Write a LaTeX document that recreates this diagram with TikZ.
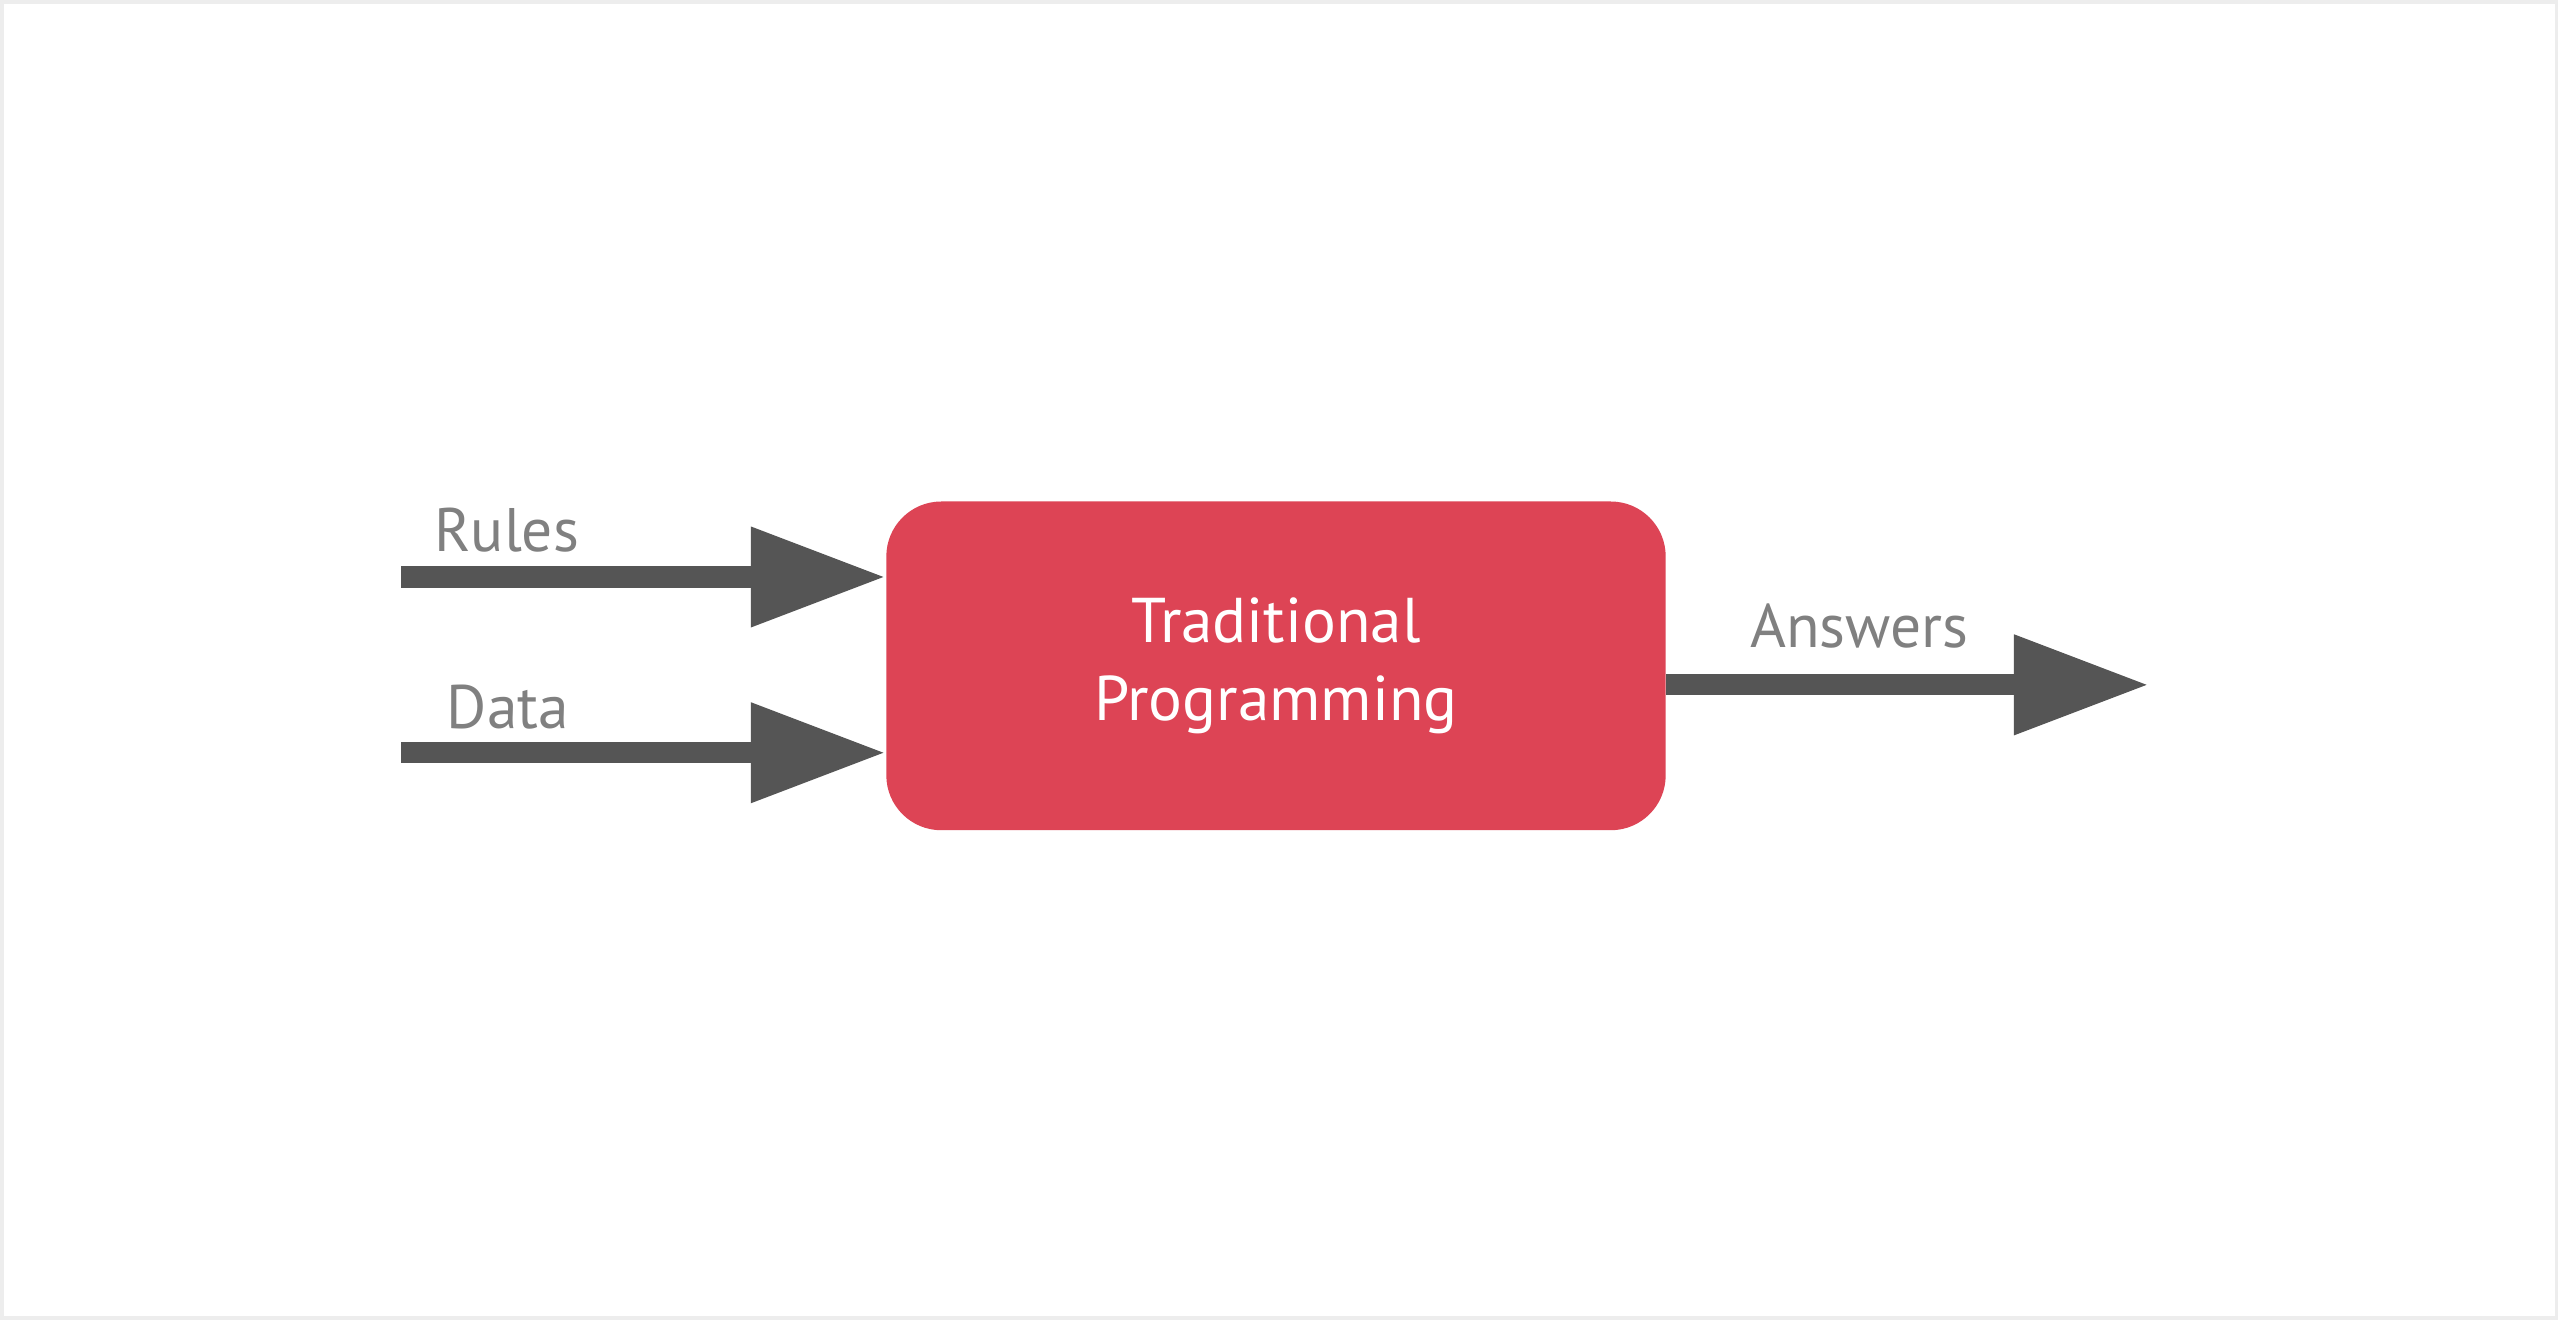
\documentclass[tikz,border=0pt]{standalone}
\usepackage{fontspec}
\setmainfont{PT Sans}
\usepackage{xcolor}
\usepackage{tikz}
\usetikzlibrary{arrows.meta,positioning}

\definecolor{progred}{RGB}{221,68,85}
\definecolor{arrowgray}{RGB}{85,85,85}
\definecolor{labelgray}{RGB}{128,128,128}

\begin{document}
\begin{tikzpicture}[
  x=0.01cm, y=-0.01cm,
  every node/.style={inner sep=0pt},
  flow/.style={draw=arrowgray, line width=6pt,
               -{Triangle[length=38.4pt, width=27pt]}},
  label/.style={text=labelgray, anchor=base west,
                font=\fontsize{17.5}{20}\selectfont},
  progbox/.style={rectangle, rounded corners=0.55cm, fill=progred,
                  minimum width=7.8cm, minimum height=3.29cm,
                  text=white, align=center,
                  font=\fontsize{18}{22}\selectfont}]

% frame of the page
\draw[black!7, line width=1pt, fill=white] (0,0) rectangle (2558,1318);
\useasboundingbox (0,0) rectangle (2558,1318);

\node[progbox] (prog) at (1276,665) {Traditional\\Programming};

\coordinate (rulesin) at (400,576);
\coordinate (datain) at (400,752);
\coordinate (ansout) at (2150,684);

\draw[flow] (rulesin) -- (rulesin -| prog.west);
\draw[flow] (datain) -- (datain -| prog.west);
\draw[flow] (prog.east |- ansout) -- (ansout);

\node[label] (rules) at (433,550) {Rules};
\node[label] (data) at (445,728) {Data};
\node[label] (answers) at (1750,647) {Answers};
\end{tikzpicture}
\end{document}
